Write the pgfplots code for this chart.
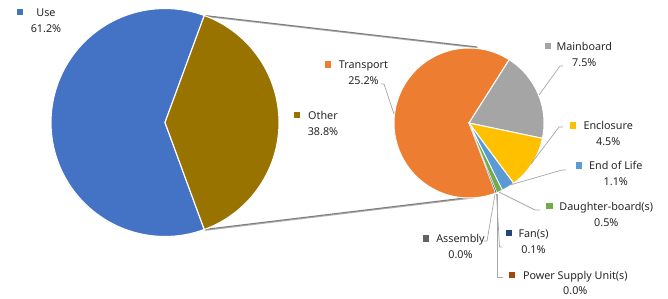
\documentclass[border=0pt]{standalone}
\usepackage{pgfplots}
\pgfplotsset{compat=1.18}
\usepackage{fontspec}
\setmainfont{Noto Sans}
\definecolor{cUse}{HTML}{4472C4}
\definecolor{cOther}{HTML}{997300}
\definecolor{cTr}{HTML}{ED7D31}
\definecolor{cMb}{HTML}{A5A5A5}
\definecolor{cEn}{HTML}{FFC000}
\definecolor{cEl}{HTML}{5B9BD5}
\definecolor{cDb}{HTML}{70AD47}
\definecolor{cFan}{HTML}{264478}
\definecolor{cPsu}{HTML}{9E480E}
\definecolor{cAs}{HTML}{636363}
\definecolor{cLead}{HTML}{A6A6A6}
\definecolor{cConn}{HTML}{7F7F7F}
\begin{document}
\begin{tikzpicture}[font=\fontsize{10.8}{16}\selectfont]
% values (percent)
\def\vUse{61.2}\def\vOther{38.8}
\def\vTr{25.2}\def\vMb{7.5}\def\vEn{4.5}\def\vEl{1.1}\def\vDb{0.5}\def\vFan{0.1}\def\vPsu{0.0}\def\vAs{0.0}
\pgfmathsetmacro\tot{\vTr+\vMb+\vEn+\vEl+\vDb+\vFan+\vPsu+\vAs}
\pgfmathsetmacro\aOther{\vOther*3.6/2}
\pgfmathsetmacro\aUseEnd{360-\aOther}
\pgfmathsetmacro\aOtherNeg{-\aOther}
\pgfmathsetmacro\sA{57.6}
\pgfmathsetmacro\sB{\sA-\vMb/\tot*360}
\pgfmathsetmacro\sC{\sB-\vEn/\tot*360}
\pgfmathsetmacro\sD{\sC-\vEl/\tot*360}
\pgfmathsetmacro\sE{\sD-\vDb/\tot*360}
\pgfmathsetmacro\sF{\sE-\vFan/\tot*360}
\pgfmathsetmacro\sTrEnd{\sF+360}
\begin{axis}[hide axis, scale only axis, width=668pt, height=298pt,
  xmin=0, xmax=668, ymin=0, ymax=298, y dir=reverse, clip=false]
\path (rel axis cs:0,0) rectangle (rel axis cs:1,1);
% connector lines
\addplot[cConn!60, line width=1.2pt, shift={(0.6pt,-0.8pt)}] coordinates {(204.3,15.5) (477,47)};
\addplot[cConn!60, line width=1.2pt, shift={(0.6pt,-0.8pt)}] coordinates {(204.3,229.5) (473,197)};
\addplot[cConn, line width=1.1pt] coordinates {(204.3,15.5) (477,47)};
\addplot[cConn, line width=1.1pt] coordinates {(204.3,229.5) (473,197)};
% left pie
\addplot[fill=cUse, draw=white, line width=1.1pt, domain=\aOther:\aUseEnd, samples=90]
  ({165+114*cos(x)}, {122.5-114*sin(x)}) -- (axis cs:165,122.5) -- cycle;
\addplot[fill=cOther, draw=white, line width=1.1pt, domain=\aOtherNeg:\aOther, samples=60]
  ({165+114*cos(x)}, {122.5-114*sin(x)}) -- (axis cs:165,122.5) -- cycle;
% right pie
\addplot[fill=cTr, draw=white, line width=1pt, domain=\sA:\sTrEnd, samples=90]
  ({469+75*cos(x)}, {123-75*sin(x)}) -- (axis cs:469,123) -- cycle;
\addplot[fill=cMb, draw=white, line width=1pt, domain=\sB:\sA, samples=30]
  ({469+75*cos(x)}, {123-75*sin(x)}) -- (axis cs:469,123) -- cycle;
\addplot[fill=cEn, draw=white, line width=1pt, domain=\sC:\sB, samples=20]
  ({469+75*cos(x)}, {123-75*sin(x)}) -- (axis cs:469,123) -- cycle;
\addplot[fill=cEl, draw=white, line width=1pt, domain=\sD:\sC, samples=6]
  ({469+75*cos(x)}, {123-75*sin(x)}) -- (axis cs:469,123) -- cycle;
\addplot[fill=cDb, draw=white, line width=0.8pt, domain=\sE:\sD, samples=4]
  ({469+75*cos(x)}, {123-75*sin(x)}) -- (axis cs:469,123) -- cycle;
\addplot[fill=cFan, draw=white, line width=0.3pt, domain=\sF:\sE, samples=3]
  ({469+75*cos(x)}, {123-75*sin(x)}) -- (axis cs:469,123) -- cycle;
% leader lines
\addplot[cLead, line width=0.7pt] coordinates {(381,84) (384,84) (394,114)};
\addplot[cLead, line width=0.7pt] coordinates {(563,66) (560,66) (539,95)};
\addplot[cLead, line width=0.7pt] coordinates {(563,127) (559,127) (531,164)};
\addplot[cLead, line width=0.7pt] coordinates {(566,170) (562,170) (510,185)};
\addplot[cLead, line width=0.7pt] coordinates {(540,210) (535,210) (499,192)};
\addplot[cLead, line width=0.7pt] coordinates {(484,241) (487,241) (495,194)};
\addplot[cLead, line width=0.7pt] coordinates {(502,247) (499.5,247) (496.5,194)};
\addplot[cLead, line width=0.7pt] coordinates {(497,194) (497,277) (503,277)};
% label keys
\addplot[only marks, mark=square*, mark size=2.6pt, color=cUse] coordinates {(19.3,12)};
\addplot[only marks, mark=square*, mark size=2.6pt, color=cOther] coordinates {(296.7,115)};
\addplot[only marks, mark=square*, mark size=2.6pt, color=cTr] coordinates {(327.8,64.2)};
\addplot[only marks, mark=square*, mark size=2.6pt, color=cMb] coordinates {(547.5,45.8)};
\addplot[only marks, mark=square*, mark size=2.6pt, color=cEn] coordinates {(572.5,125.2)};
\addplot[only marks, mark=square*, mark size=2.6pt, color=cEl] coordinates {(579,165.2)};
\addplot[only marks, mark=square*, mark size=2.6pt, color=cDb] coordinates {(549.2,205.8)};
\addplot[only marks, mark=square*, mark size=2.6pt, color=cFan] coordinates {(508.5,232.5)};
\addplot[only marks, mark=square*, mark size=2.6pt, color=cAs] coordinates {(425.8,238.2)};
\addplot[only marks, mark=square*, mark size=2.6pt, color=cPsu] coordinates {(511.8,274.8)};
% label texts
\tikzset{lbl/.style={anchor=base, inner sep=0pt, text=black!85}}
\node[lbl] at (axis cs:46,16.7) {Use};
\node[lbl] at (axis cs:46,32.5) {61.2\%};
\node[lbl] at (axis cs:323,119.5) {Other};
\node[lbl] at (axis cs:323,135.5) {38.8\%};
\node[lbl] at (axis cs:363.5,68.7) {Transport};
\node[lbl] at (axis cs:363.5,84.7) {25.2\%};
\node[lbl] at (axis cs:584.3,50.3) {Mainboard};
\node[lbl] at (axis cs:584.3,66.3) {7.5\%};
\node[lbl] at (axis cs:608.2,129.7) {Enclosure};
\node[lbl] at (axis cs:608.2,145.7) {4.5\%};
\node[lbl] at (axis cs:615.8,169.7) {End of Life};
\node[lbl] at (axis cs:615.8,185.7) {1.1\%};
\node[lbl] at (axis cs:606.3,210.3) {Daughter-board(s)};
\node[lbl] at (axis cs:606.3,226.3) {0.5\%};
\node[lbl] at (axis cs:533.5,237) {Fan(s)};
\node[lbl] at (axis cs:533.5,253) {0.1\%};
\node[lbl] at (axis cs:460.5,242.7) {Assembly};
\node[lbl] at (axis cs:460.5,258.7) {0.0\%};
\node[lbl] at (axis cs:575.3,279.3) {Power Supply Unit(s)};
\node[lbl] at (axis cs:575.3,294.8) {0.0\%};
\end{axis}
\end{tikzpicture}
\end{document}
